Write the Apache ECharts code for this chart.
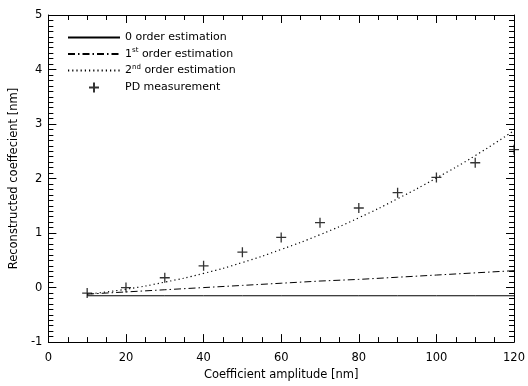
<!DOCTYPE html>
<html>
<head>
<meta charset="utf-8">
<script src="https://cdn.jsdelivr.net/npm/echarts@6/dist/echarts.min.js"></script>
<style>
  html, body { margin: 0; padding: 0; background: #fff; }
  #chart { width: 528px; height: 386px; }
</style>
</head>
<body>
<div id="chart"></div>
<script>
// amplitudes (nm)
const amplitudes = [10, 20, 30, 40, 50, 60, 70, 80, 90, 100, 110, 120];
const order0 = [-0.15, -0.15, -0.15, -0.15, -0.15, -0.15, -0.15, -0.15, -0.15, -0.15, -0.15, -0.15];
const order1 = [-0.12, -0.08, -0.04, 0.0, 0.04, 0.08, 0.12, 0.15, 0.19, 0.23, 0.27, 0.31];
const order2 = [-0.12, -0.03, 0.10, 0.26, 0.46, 0.70, 0.97, 1.28, 1.63, 2.01, 2.42, 2.88];
const pdMeas = [-0.1, 0.0, 0.18, 0.40, 0.65, 0.92, 1.19, 1.46, 1.74, 2.02, 2.29, 2.53];

const seriesNames = ['0 order estimation', '1st order estimation', '2nd order estimation', 'PD measurement'];

const font = 'DejaVu Sans';
const pair = (vals) => amplitudes.map((x, i) => [x, vals[i]]);

const chart = echarts.init(document.getElementById('chart'));

// box axes: ticks inward on all four sides
function xAxisOpt(pos, extra) {
  return Object.assign({
    type: 'value', min: 0, max: 120, interval: 20, position: pos,
    axisLine: { show: true, onZero: false, lineStyle: { color: '#000', width: 1 } },
    axisTick: { show: true, inside: true, length: 8, lineStyle: { color: '#000', width: 1 } },
    minorTick: { show: true, splitNumber: 4, length: 5, lineStyle: { color: '#000', width: 1 } },
    splitLine: { show: false },
  }, extra);
}
function yAxisOpt(pos, extra) {
  return Object.assign({
    type: 'value', min: -1, max: 5, interval: 1, position: pos,
    axisLine: { show: true, onZero: false, lineStyle: { color: '#000', width: 1 } },
    axisTick: { show: true, inside: true, length: 8, lineStyle: { color: '#000', width: 1 } },
    minorTick: { show: true, splitNumber: 10, length: 5, lineStyle: { color: '#000', width: 1 } },
    splitLine: { show: false },
  }, extra);
}

chart.setOption({
  animation: false,
  backgroundColor: '#fff',
  textStyle: { fontFamily: font },
  grid: { left: 46, right: 9, top: 15, bottom: 40 },
  legend: {
    left: 62, top: 27, orient: 'vertical',
    itemWidth: 52, itemHeight: 10, itemGap: 4,
    data: seriesNames.map((n, i) => i < 3 ? { name: n, itemStyle: { opacity: 0 } } : { name: n }),
    textStyle: {
      fontFamily: font, fontSize: 11, color: '#000',
      rich: { sup: { fontSize: 7, verticalAlign: 'top', padding: [0, 0, 7, 0], fontFamily: font, color: '#000' } }
    },
    formatter: (name) => name.replace(/^(\d)(st|nd)/, '$1{sup|$2}'),
  },
  xAxis: [
    xAxisOpt('bottom', {
      name: 'Coefficient amplitude [nm]', nameLocation: 'middle', nameGap: 24,
      nameTextStyle: { fontFamily: font, fontSize: 11.5, color: '#000' },
      axisLabel: { color: '#000', fontFamily: font, fontSize: 11.5, margin: 10 },
    }),
    xAxisOpt('top', { axisLabel: { show: false } }),
  ],
  yAxis: [
    yAxisOpt('left', {
      name: 'Reconstructed coeffecient [nm]', nameLocation: 'middle', nameGap: 24,
      nameTextStyle: { fontFamily: font, fontSize: 11.5, color: '#000' },
      axisLabel: { color: '#000', fontFamily: font, fontSize: 11.5, margin: 6 },
    }),
    yAxisOpt('right', { axisLabel: { show: false } }),
  ],
  series: [
    {
      name: seriesNames[0], type: 'line', data: pair(order0), symbol: 'none',
      lineStyle: { color: '#000', width: 1 }, itemStyle: { color: '#000' },
    },
    {
      name: seriesNames[1], type: 'line', data: pair(order1), symbol: 'none',
      lineStyle: { color: '#000', width: 1, type: [7, 3, 1.5, 3] }, itemStyle: { color: '#000' },
    },
    {
      name: seriesNames[2], type: 'line', data: pair(order2), symbol: 'none', smooth: true,
      lineStyle: { color: '#000', width: 1.2, type: [1.2, 3] }, itemStyle: { color: '#000' },
    },
    {
      name: seriesNames[3], type: 'scatter', data: pair(pdMeas),
      symbol: 'path://M5,0L5,10M0,5L10,5', symbolSize: 10,
      itemStyle: { color: 'none', borderColor: '#000', borderWidth: 1.3 },
    },
  ],
});
</script>
</body>
</html>
